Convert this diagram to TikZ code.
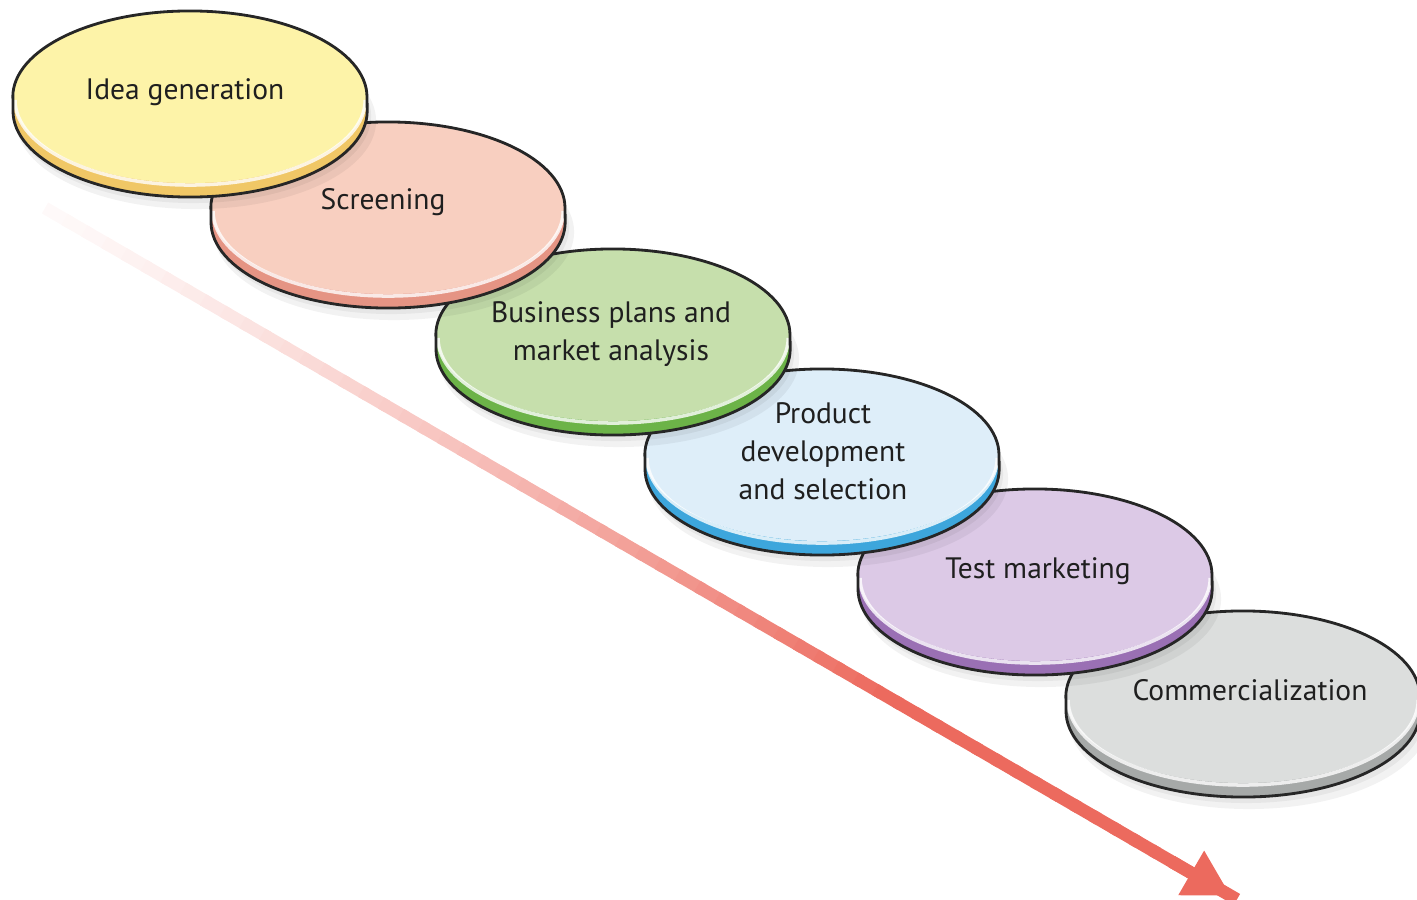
\documentclass[tikz,border=0pt]{standalone}
\usepackage{fontspec}
\setmainfont{PT Sans}
\usetikzlibrary{arrows.meta,calc}
\definecolor{faceA}{HTML}{FDF3A8}\definecolor{rimA}{HTML}{F0C766}
\definecolor{faceB}{HTML}{F8CFC0}\definecolor{rimB}{HTML}{E59484}
\definecolor{faceC}{HTML}{C6DFAC}\definecolor{rimC}{HTML}{6CB348}
\definecolor{faceD}{HTML}{DEEEF9}\definecolor{rimD}{HTML}{3DA6DC}
\definecolor{faceE}{HTML}{DCC9E6}\definecolor{rimE}{HTML}{9A70B4}
\definecolor{faceF}{HTML}{DCDEDD}\definecolor{rimF}{HTML}{A6A9A8}
\definecolor{arrowred}{HTML}{EC6A5E}
\tikzset{
  lbl/.style={font=\fontsize{8.4}{10.8}\selectfont, text=black!88, align=center, inner sep=0pt},
  rad/.style={x radius=1.77cm, y radius=0.86cm},
}
\newcommand\drawdisc[4]{%
  \fill[black, opacity=0.05] (#1+6,#2+24) ellipse[x radius=1.80cm, y radius=0.88cm];
  \fill[black, opacity=0.05] (#1+3,#2+19) ellipse[x radius=1.78cm, y radius=0.87cm];
  \fill[#4] (#1-177,#2) -- (#1-177,#2+14) arc[start angle=180,end angle=360,rad] -- (#1+177,#2) arc[start angle=0,end angle=180,rad] -- cycle;
  \fill[#3] (#1,#2) ellipse[rad];
  \draw[white, line width=1pt, opacity=0.8] (#1-175,#2+3) arc[start angle=180,end angle=360,x radius=1.75cm, y radius=0.85cm];
  \draw[black!85, line width=0.8pt] (#1-177,#2) -- (#1-177,#2+14) arc[start angle=180,end angle=360,rad] -- (#1+177,#2) arc[start angle=0,end angle=180,rad] -- cycle;
}
\begin{document}
\begin{tikzpicture}[x=0.01cm,y=-0.01cm]
\useasboundingbox (0,0) rectangle (1417,900);
% progress arrow
\coordinate (as) at (45,208);
\coordinate (ae) at (1231,896);
\foreach \i in {0,...,59}{
  \pgfmathsetmacro\p{min(100,4+96*(\i/42)^1.3)}
  \draw[line width=3.6pt, color=arrowred!\p!white] ($(as)!\i/60!(ae)$) -- ($(as)!{(\i+1.3)/60}!(ae)$);
}
\draw[line width=3.6pt, color=arrowred, -{Triangle[length=0.46cm,width=0.48cm]}] ($(as)!0.95!(ae)$) -- (ae);
% discs, back to front
\drawdisc{1243}{697}{faceF}{rimF}
\drawdisc{1035}{575}{faceE}{rimE}
\drawdisc{822}{455}{faceD}{rimD}
\drawdisc{613}{335}{faceC}{rimC}
\drawdisc{388}{208}{faceB}{rimB}
\drawdisc{190}{97}{faceA}{rimA}
% labels
\node[lbl] (idea) at (185,92) {Idea generation};
\node[lbl] (screen) at (383,202) {Screening};
\node[lbl] (biz) at (611,334) {Business plans and\\market analysis};
\node[lbl] (prod) at (823,451) {Product\\development\\and selection};
\node[lbl] (test) at (1038,571) {Test marketing};
\node[lbl] (comm) at (1250,690) {Commercialization};
\end{tikzpicture}
\end{document}
